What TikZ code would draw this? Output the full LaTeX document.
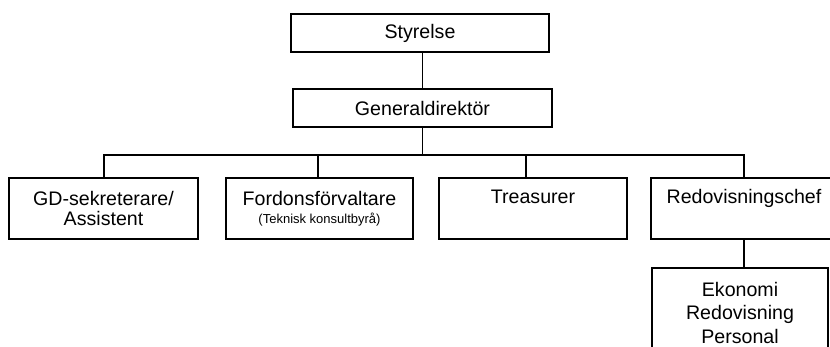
\documentclass[tikz,border=0pt]{standalone}
\usepackage{fontspec}
\setmainfont{Liberation Sans}
\begin{document}
\begin{tikzpicture}[x=1pt,y=-1pt,
  orgbox/.style={draw=black, line width=1.5pt, fill=white, inner sep=0pt,
    align=center, font=\fontsize{19.6}{23.5}\selectfont},
  link/.style={draw=black, line width=1.6pt}]
  \clip (0,0) rectangle (830,347);
  \fill[white] (0,0) rectangle (830,347);

  % top of the chart
  \node[orgbox, minimum width=258pt, minimum height=38pt] (sty) at (420,33) {Styrelse};
  \node[orgbox, minimum width=259pt, minimum height=38pt] (gd) at (422.5,108) {Generaldirektör};

  % second level
  \node[orgbox, minimum width=189pt, minimum height=61pt,
        font=\fontsize{19.6}{20.5}\selectfont] (sek) at (103.5,208.5) {GD-sekreterare/\\Assistent};
  \node[orgbox, minimum width=187pt, minimum height=61pt] (ford) at (319.5,208.5)
        {Fordonsförvaltare\\[-5pt]{\fontsize{13}{15}\selectfont (Teknisk konsultbyrå)}};
  \node[orgbox, minimum width=188pt, minimum height=61pt] (tre) at (533,208.5) {Treasurer\\\mbox{}};
  \node[orgbox, minimum width=186pt, minimum height=61pt] (red) at (744,208.5) {Redovisningschef\\\mbox{}};

  % third level
  \node[orgbox, minimum width=176pt, minimum height=89pt] (eko) at (740,312.5)
        {Ekonomi\\Redovisning\\Personal};

  % connectors
  \coordinate (busL) at (104,155);
  \coordinate (busR) at (744,155);
  \coordinate (busF) at (318,155);
  \coordinate (busT) at (526,155);
  \draw[link] (sty.south -| gd.south) -- (gd.north);
  \draw[link] (gd.south) -- (gd.south |- busL);
  \draw[link] (sek.north -| busL) -- (busL) -- (busR) -- (red.north -| busR);
  \draw[link] (busF) -- (busF |- ford.north);
  \draw[link] (busT) -- (busT |- tre.north);
  \draw[link] (red.south) -- (red.south |- eko.north);
\end{tikzpicture}
\end{document}
